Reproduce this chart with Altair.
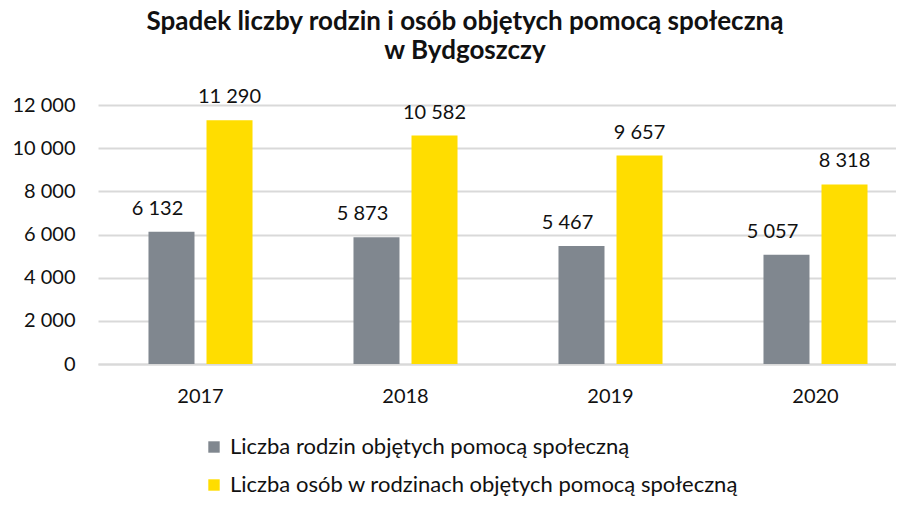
import altair as alt
import pandas as pd

years = ["2017", "2018", "2019", "2020"]
series_names = [
    "Liczba rodzin objętych pomocą społeczną",
    "Liczba osób w rodzinach objętych pomocą społeczną",
]
rodziny = [6132, 5873, 5467, 5057]
osoby = [11290, 10582, 9657, 8318]
colors = ["#80878f", "#ffdd00"]
y_ticks = [0, 2000, 4000, 6000, 8000, 10000, 12000]

rows = []
for i, y in enumerate(years):
    rows.append({"year": y, "series": series_names[0], "value": rodziny[i]})
    rows.append({"year": y, "series": series_names[1], "value": osoby[i]})
df = pd.DataFrame(rows)

FONT = "Lato"
fmt = "replace(format(datum.value, ','), ',', ' ')"

base = alt.Chart(df).transform_calculate(
    label="replace(format(datum.value, ','), ',', ' ')"
)

x_enc = alt.X(
    "year:N",
    sort=years,
    scale=alt.Scale(range=[0, 820], paddingInner=0, paddingOuter=0),
    axis=alt.Axis(
        title=None, labelAngle=0, ticks=False, domain=True, domainColor="#d9d9d9",
        domainWidth=2, labelFontSize=20, labelFont=FONT, labelColor="#111111",
        labelPadding=22,
    ),
)
xo_enc = alt.XOffset(
    "series:N",
    sort=series_names,
    scale=alt.Scale(domain=series_names, paddingInner=0.207, paddingOuter=0.87),
)
y_enc = alt.Y(
    "value:Q",
    scale=alt.Scale(domain=[0, 12000], nice=False),
    axis=alt.Axis(
        title=None, values=y_ticks, labelExpr=fmt, ticks=False, domain=False,
        gridColor="#d9d9d9", gridWidth=2, labelFontSize=20, labelFont=FONT,
        labelColor="#111111", labelPadding=23,
    ),
)

bars = base.mark_bar().encode(
    x=x_enc,
    xOffset=xo_enc,
    y=y_enc,
    color=alt.Color(
        "series:N",
        sort=series_names,
        scale=alt.Scale(domain=series_names, range=colors),
        legend=alt.Legend(
            title=None, orient="none", legendX=105, legendY=331,
            direction="vertical", symbolType="square", symbolSize=130,
            symbolStrokeWidth=0, labelFontSize=22, labelFont=FONT,
            labelColor="#111111", rowPadding=16, labelOffset=5, padding=0,
            labelLimit=700,
        ),
    ),
)

text_gray = base.mark_text(
    fontSize=20, font=FONT, color="#111111", baseline="alphabetic", dy=-17, dx=-14
).encode(
    x=alt.X("year:N", sort=years), xOffset=alt.XOffset("series:N", sort=series_names),
    y="value:Q", text="label:N",
).transform_filter(alt.datum.series == series_names[0])

text_yellow = base.mark_text(
    fontSize=20, font=FONT, color="#111111", baseline="alphabetic", dy=-17
).encode(
    x=alt.X("year:N", sort=years), xOffset=alt.XOffset("series:N", sort=series_names),
    y="value:Q", text="label:N",
).transform_filter(alt.datum.series == series_names[1])

chart = alt.layer(bars, text_gray, text_yellow).properties(
    width=798,
    height=259,
    title=alt.TitleParams(
        ["Spadek liczby rodzin i osób objętych pomocą społeczną", "w Bydgoszczy"],
        font=FONT, fontSize=26, fontWeight="bold", color="#111111",
        anchor="middle", dx=-32, offset=23, lineHeight=29,
    ),
    autosize=alt.AutoSizeParams(type="none"),
    padding={"left": 90, "top": 97, "right": 0, "bottom": 134},
).configure_view(stroke=None)

chart.save("out.html", embed_options={"renderer": "svg", "actions": False})
